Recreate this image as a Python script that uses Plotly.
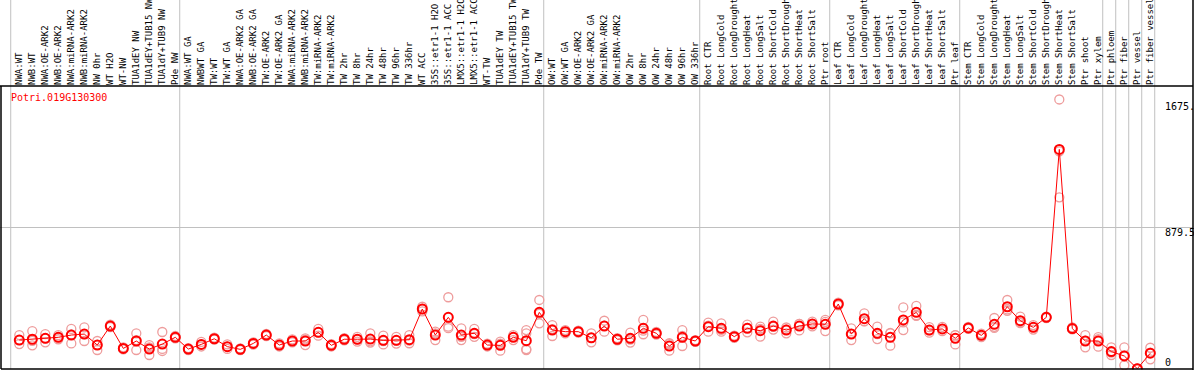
import plotly.graph_objects as go

gene_id = "Potri.019G130300"

labels = [
    "NWA:WT", "NWB:WT", "NWA:OE-ARK2", "NWB:OE-ARK2", "NWA:miRNA-ARK2", "NWB:miRNA-ARK2",
    "NW 0hr", "WT H2O", "WT-NW", "TUA1dEY NW", "TUA1dEY+TUB15 NW", "TUA1dY+TUB9 NW", "Pde NW",
    "NWA:WT GA", "NWBWT GA", "TW:WT", "TW:WT GA", "NWA:OE-ARK2 GA", "NWB:OE-ARK2 GA",
    "TW:OE-ARK2", "TW:OE-ARK2 GA", "NWA:miRNA-ARK2", "NWB:miRNA-ARK2", "TW:miRNA-ARK2",
    "TW:miRNA-ARK2", "TW 2hr", "TW 8hr", "TW 24hr", "TW 48hr", "TW 96hr", "TW 336hr", "WT ACC",
    "35S::etr1-1 H2O", "35S::etr1-1 ACC", "LMX5::etr1-1 H2O", "LMX5::etr1-1 ACC", "WT-TW",
    "TUA1dEY TW", "TUA1dEY+TUB15 TW", "TUA1dY+TUB9 TW", "Pde TW",
    "OW:WT", "OW:WT GA", "OW:OE-ARK2", "OW:OE-ARK2 GA", "OW:miRNA-ARK2", "OW:miRNA-ARK2",
    "OW 2hr", "OW 8hr", "OW 24hr", "OW 48hr", "OW 96hr", "OW 336hr",
    "Root CTR", "Root LongCold", "Root LongDrought", "Root LongHeat", "Root LongSalt",
    "Root ShortCold", "Root ShortDrought", "Root ShortHeat", "Root ShortSalt", "Ptr root",
    "Leaf CTR", "Leaf LongCold", "Leaf LongDrought", "Leaf LongHeat", "Leaf LongSalt",
    "Leaf ShortCold", "Leaf ShortDrought", "Leaf ShortHeat", "Leaf ShortSalt", "Ptr leaf",
    "Stem CTR", "Stem LongCold", "Stem LongDrought", "Stem LongHeat", "Stem LongSalt",
    "Stem ShortCold", "Stem ShortDrought", "Stem ShortHeat", "Stem ShortSalt", "Ptr shoot",
    "Ptr xylem", "Ptr phloem", "Ptr fiber", "Ptr vessel", "Ptr fiber vessel",
]

means = [
    180, 185, 191, 197, 211, 217, 149, 267, 128, 174, 124, 155, 197,
    124, 153, 188, 139, 122, 159, 211, 149, 174, 174, 228, 147, 185, 185, 186, 178, 178, 182,
    373, 211, 321, 211, 222, 149, 147, 197, 176, 352,
    242, 232, 232, 194, 267, 185, 191, 253, 222, 143, 197, 174,
    263, 253, 201, 253, 238, 267, 242, 267, 280, 278,
    404, 217, 313, 222, 197, 305, 352, 242, 249, 191,
    255, 209, 278, 387, 300, 259, 321, 1365, 251, 174, 174,
    108, 81, 2, 98,
]

replicates = [
    [211, 155, 180], [236, 147, 175], [217, 166, 191], [210, 185, 197], [249, 159, 215],
    [259, 174, 217], [174, 118, 150], [275, 260, 267], [135, 122, 128], [222, 118, 180],
    [149, 87, 135], [230, 125, 112], [205, 190, 197],
    [130, 118, 124], [168, 140, 153], [195, 182, 188], [153, 125, 139], [128, 117, 122],
    [165, 152, 159], [218, 205, 211], [159, 140, 149], [184, 165, 174], [190, 149, 183],
    [249, 207, 228], [155, 140, 147], [192, 178, 185], [200, 170, 185], [222, 164, 172],
    [207, 153, 174], [200, 158, 176], [210, 160, 176], [387, 358, 373], [232, 180, 221],
    [446, 263, 254], [253, 180, 200], [249, 200, 217], [157, 140, 149], [170, 114, 157],
    [210, 180, 200], [242, 222, 124, 118], [429, 284, 343],
    [273, 205, 248], [242, 222, 232], [238, 226, 232], [222, 166, 194], [300, 232, 269],
    [192, 178, 185], [226, 164, 183], [305, 216, 238], [230, 214, 222], [155, 114, 160],
    [242, 143, 206], [180, 168, 174],
    [288, 232, 269], [284, 232, 243], [208, 194, 201], [276, 228, 255], [250, 201, 263],
    [294, 245, 262], [258, 222, 246], [280, 240, 281], [294, 265, 281], [305, 236, 293],
    [412, 396, 404], [253, 180, 218], [346, 296, 297], [263, 186, 217], [222, 145, 224],
    [383, 242, 290], [392, 330, 334], [260, 226, 240], [262, 236, 249], [210, 153, 210],
    [262, 250, 253], [220, 198, 209], [317, 255, 262], [429, 362, 370], [325, 285, 290],
    [273, 245, 259], [326, 316, 321], [1675.24, 1067, 1353], [258, 246, 249], [211, 135, 176],
    [185, 139, 198],
    [135, 87, 102], [135, 23, 85], [4, 0, 2], [132, 60, 102],
]

# indices where a new sample group begins (vertical separators)
group_starts = [0, 13, 41, 53, 63, 73, 84, 85, 86, 87, 88]

MONO = "DejaVu Sans Mono"
W, H = 1194, 370
L, R, T, B = 1, 1, 86, 1
PX = 13.0  # pixels per sample column

n = len(labels)
xs = list(range(n))
ymax_data = max(max(r) for r in replicates)
ytop = ymax_data * 1.05

x0 = -18.3 / PX
x1 = x0 + (W - L - R) / PX

rx, ry = [], []
for i, reps in enumerate(replicates):
    for v in reps:
        rx.append(i)
        ry.append(v)

fig = go.Figure()
fig.add_trace(go.Scatter(
    x=rx, y=ry, mode="markers",
    marker=dict(symbol="circle-open", size=9, color="#ee9c9c", line=dict(width=1.3)),
    hoverinfo="skip", cliponaxis=False,
))
fig.add_trace(go.Scatter(
    x=xs, y=means, mode="lines+markers",
    line=dict(color="#ff0000", width=1),
    marker=dict(symbol="circle-open", size=9, color="#ff0000", line=dict(width=2)),
    cliponaxis=True,
))

pw = W - L - R
ph = H - T - B
shapes = []
for g in group_starts:
    shapes.append(dict(type="line", xref="x", yref="paper", x0=g - 0.66, x1=g - 0.66,
                       y0=0, y1=(H - B) / ph, line=dict(color="#c0c0c0", width=1),
                       layer="below"))
shapes.append(dict(type="line", xref="paper", yref="y", x0=-1 / pw, x1=1,
                   y0=ytop / 2, y1=ytop / 2, line=dict(color="#c0c0c0", width=1), layer="below"))
# frame lines
shapes += [
    dict(type="line", xref="paper", yref="paper", x0=-1 / pw, x1=1, y0=1, y1=1,
         line=dict(color="black", width=1.5)),
    dict(type="line", xref="paper", yref="paper", x0=0, x1=0, y0=0, y1=1,
         line=dict(color="black", width=1.5)),
    dict(type="line", xref="paper", yref="paper", x0=0, x1=1, y0=0, y1=0,
         line=dict(color="black", width=1.5)),
    dict(type="line", xref="paper", yref="paper", x0=1, x1=1, y0=-1 / ph, y1=(H - B) / ph,
         line=dict(color="black", width=1.5)),
]


def fmt_max(v):
    return f"{v:.2f}"[:5]


annotations = [
    dict(text=gene_id, xref="paper", yref="paper", x=8 / pw, y=1 - 12 / ph,
         xanchor="left", yanchor="middle", showarrow=False,
         font=dict(family=MONO, size=10, color="#ff0000")),
]
for val, txt, ys in [(ymax_data, fmt_max(ymax_data), -7), (ytop / 2, f"{ytop / 2:.1f}", -5),
                     (0, "0", 7)]:
    annotations.append(dict(text=txt, xref="x", yref="y", x=n, y=val, yshift=ys,
                            xanchor="left", yanchor="middle", showarrow=False,
                            font=dict(family=MONO, size=10, color="black")))

fig.update_layout(
    template="none",
    width=W, height=H,
    margin=dict(l=L, r=R, t=T, b=B, pad=0),
    paper_bgcolor="white", plot_bgcolor="white",
    showlegend=False,
    shapes=shapes,
    annotations=annotations,
    xaxis=dict(range=[x0, x1], side="top", tickmode="array", tickvals=xs, ticktext=labels,
               tickangle=-90, ticks="", showgrid=False, zeroline=False, showline=False,
               automargin=False, tickfont=dict(family=MONO, size=9, color="black")),
    yaxis=dict(range=[0, ytop], showticklabels=False, showgrid=False, zeroline=False,
               showline=False, automargin=False),
)

fig.write_html("out.html", config={"displayModeBar": False},
               post_script="document.body.style.margin='0px';document.body.style.overflow='hidden';")
